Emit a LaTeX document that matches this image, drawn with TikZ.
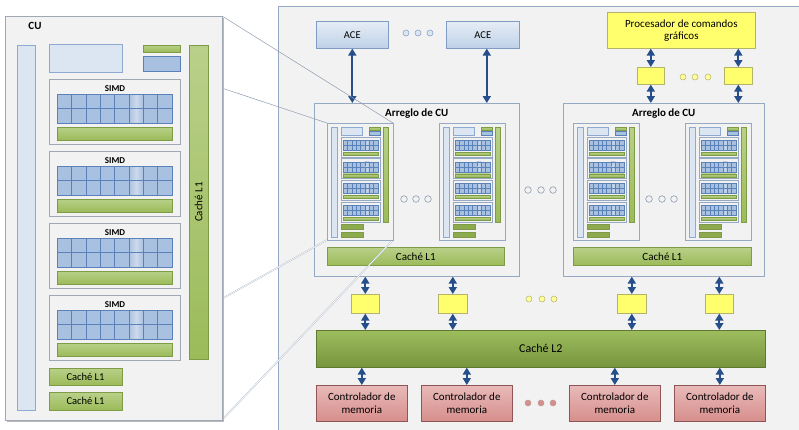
\documentclass[tikz,border=0pt]{standalone}
\usepackage{fontspec}
\setmainfont{Carlito}
\usetikzlibrary{arrows.meta,calc}

\definecolor{panelbg}{HTML}{F2F2F2}
\definecolor{panelln}{HTML}{95A9C3}
\definecolor{cubord}{HTML}{A0A8B4}
\definecolor{ltblue}{HTML}{DCE6F2}
\definecolor{ltblueln}{HTML}{8EAAD0}
\definecolor{cellfill}{HTML}{A9C1E1}
\definecolor{cellln}{HTML}{5B82B8}
\definecolor{cellhi}{HTML}{CCDAEC}
\definecolor{grntop}{HTML}{B9D08A}
\definecolor{grnbot}{HTML}{9BBB59}
\definecolor{grnln}{HTML}{7E9C46}
\definecolor{grndark}{HTML}{8DAA4F}
\definecolor{l2top}{HTML}{9DBD5E}
\definecolor{l2bot}{HTML}{77943D}
\definecolor{l2ln}{HTML}{5E7A30}
\definecolor{yel}{HTML}{FFFF6E}
\definecolor{yelln}{HTML}{B3B36B}
\definecolor{arrc}{HTML}{254E8A}
\definecolor{mctop}{HTML}{E8BAB9}
\definecolor{mcbot}{HTML}{D68E8C}
\definecolor{mcln}{HTML}{8F5655}
\definecolor{acetop}{HTML}{E6EDF6}
\definecolor{acebot}{HTML}{BFD1E7}
\definecolor{aceln}{HTML}{7F9CC4}
\definecolor{projln}{HTML}{8C9CB0}

\tikzset{
  box/.style={draw, line width=0.6pt, inner sep=0pt, anchor=north west, align=center},
  acebox/.style={box, draw=aceln, top color=acetop, bottom color=acebot,
    font=\fontsize{10.5}{12}\selectfont},
  yelbox/.style={box, draw=yelln, fill=yel, font=\fontsize{11}{12}\selectfont},
  arrbox/.style={box, draw=panelln, fill=panelbg},
  l1bar/.style={box, draw=grnln, top color=grntop, bottom color=grnbot,
    font=\fontsize{11}{12}\selectfont},
  l2bar/.style={box, draw=l2ln, top color=l2top, bottom color=l2bot,
    font=\fontsize{12}{14}\selectfont},
  mcbox/.style={box, draw=mcln, top color=mctop, bottom color=mcbot,
    font=\fontsize{11}{13}\selectfont},
  biarrow/.style={draw=arrc, line width=1.8pt,
    {Triangle[length=7pt,width=8pt]}-{Triangle[length=7pt,width=8pt]}},
  cuframe/.style={draw=cubord, fill=panelbg, line width=0.5pt},
  minifr/.style={draw=panelln, fill=panelbg, line width=0.5pt},
  ltb/.style={draw=ltblueln, fill=ltblue, line width=0.5pt},
  grn/.style={draw=grnln, top color=grntop, bottom color=grnbot, line width=0.5pt},
  grnd/.style={draw=grnln, fill=grndark, line width=0.5pt},
  cell/.style={draw=cellln, fill=cellfill, line width=0.4pt},
  cellmid/.style={draw=cellln, left color=cellfill, right color=cellfill,
    middle color=cellhi, line width=0.4pt},
  simdbox/.style={draw=cubord, fill=panelbg, line width=0.5pt},
  dotblue/.style={draw=aceln, fill=ltblue, line width=0.5pt},
  dotgray/.style={draw=projln, fill=panelbg, line width=0.6pt},
  dotyel/.style={draw=yelln, fill=yel!70, line width=0.5pt},
  dotred/.style={draw=mcln!60, fill=mcbot, line width=0.5pt},
  proj/.style={draw=projln, line width=0.5pt},
  projdbl/.style={draw=projln!80, line width=0.35pt, double=white, double distance=0.7pt},
}

% one SIMD lane grid: #1,#2 = top-left corner, #3 = cell width, #4 = cell height, #5 = line width
\newcommand{\lanegrid}[5]{%
  \foreach \c in {0,...,7}{%
    \foreach \r in {0,1}{%
      \ifnum\c=5
        \draw[cellmid, line width=#5] (#1+\c*#3, #2+\r*#4) rectangle ++(#3,#4);
      \else
        \draw[cell, line width=#5] (#1+\c*#3, #2+\r*#4) rectangle ++(#3,#4);
      \fi
    }%
  }%
}

% small compute unit inside a CU array, anchored at its top-left corner
\newcommand{\minicu}[3]{%
  \begin{scope}[shift={(#1,#2)}]
    \draw[minifr] (0,0) rectangle (66,117);
    \coordinate (#3) at (0,0);
    \draw[ltb] (4,4) rectangle (10,114);
    \draw[ltb] (14,4) rectangle (35,12);
    \draw[grn] (42,4) rectangle (53,7);
    \draw[cell] (42,8) rectangle (53,12);
    \draw[grn] (56,4) rectangle (61,99);
    \foreach \k in {0,...,3}{%
      \pgfmathsetmacro\t{14+21.7*\k}
      \draw[minifr] (14,\t) rectangle (53,\t+20);
      \lanegrid{16}{\t+3}{4.375}{5}{0.3pt}
      \draw[grn, line width=0.4pt] (16,\t+15) rectangle (51,\t+18);
    }
    \draw[grnd] (14,101) rectangle (36,106);
    \draw[grnd] (14,109) rectangle (36,114);
  \end{scope}}

\begin{document}
\begin{tikzpicture}[x=1pt, y=-1pt]
  \useasboundingbox (0,0) rectangle (799,429);
  \clip (0,0) rectangle (799,429);

  % GPU panel
  \draw[draw=panelln, fill=panelbg, line width=0.7pt] (278,6) rectangle (820,450);

  % front end
  \node[acebox, minimum width=72pt, minimum height=27pt] (ace1) at (316,21) {ACE};
  \node[acebox, minimum width=73pt, minimum height=27pt] (ace2) at (446,21) {ACE};
  \node[yelbox, minimum width=148pt, minimum height=36pt] (proc) at (607,12)
    {Procesador de comandos\\gráficos};
  \node[yelbox, minimum width=27pt, minimum height=17pt] (sy1) at (637,67) {};
  \node[yelbox, minimum width=28pt, minimum height=17pt] (sy2) at (724,67) {};

  % CU arrays
  \node[arrbox, minimum width=205pt, minimum height=173pt] (arr1) at (314,103) {};
  \node[arrbox, minimum width=201pt, minimum height=173pt] (arr2) at (563,103) {};
  \node[font=\bfseries\fontsize{11}{12}\selectfont] (t1) at ([yshift=-11pt]arr1.north) {Arreglo de CU};
  \node[font=\bfseries\fontsize{11}{12}\selectfont] (t2) at ([yshift=-11pt]arr2.north) {Arreglo de CU};
  \node[l1bar, minimum width=177pt, minimum height=18pt] (c1) at (327,247) {Caché L1};
  \node[l1bar, minimum width=178pt, minimum height=18pt] (c2) at (573,247) {Caché L1};

  % memory side
  \node[yelbox, minimum width=28pt, minimum height=19pt] (by1) at (351,294) {};
  \node[yelbox, minimum width=29pt, minimum height=19pt] (by2) at (438,294) {};
  \node[yelbox, minimum width=29pt, minimum height=19pt] (by3) at (617,294) {};
  \node[yelbox, minimum width=28pt, minimum height=19pt] (by4) at (705,294) {};
  \node[l2bar, minimum width=449pt, minimum height=37pt] (l2) at (316,330) {Caché L2};
  \node[mcbox, minimum width=91pt, minimum height=36pt] (mc1) at (316,385) {Controlador de\\memoria};
  \node[mcbox, minimum width=91pt, minimum height=36pt] (mc2) at (421,385) {Controlador de\\memoria};
  \node[mcbox, minimum width=91pt, minimum height=36pt] (mc3) at (569,385) {Controlador de\\memoria};
  \node[mcbox, minimum width=91pt, minimum height=36pt] (mc4) at (674,385) {Controlador de\\memoria};

  % links
  \draw[biarrow] (ace1.south) -- (ace1.south |- arr1.north);
  \draw[biarrow] ([xshift=4pt]ace2.south) -- ([xshift=4pt]ace2.south |- arr1.north);
  \draw[biarrow] (sy1.north |- proc.south) -- (sy1.north);
  \draw[biarrow] (sy2.north |- proc.south) -- (sy2.north);
  \draw[biarrow] (sy1.south) -- (sy1.south |- arr2.north);
  \draw[biarrow] (sy2.south) -- (sy2.south |- arr2.north);
  \foreach \b/\a in {by1/arr1, by2/arr1, by3/arr2, by4/arr2}{
    \draw[biarrow] (\b.north |- \a.south) -- (\b.north);
    \draw[biarrow] (\b.south) -- (\b.south |- l2.north);
  }
  \foreach \m in {mc1,mc2,mc3,mc4}{
    \draw[biarrow] (\m.north |- l2.south) -- (\m.north);
  }

  % ellipsis dots
  \foreach \x in {406,418,430} \draw[dotblue] (\x,33) circle (3pt);
  \foreach \x in {683,695,708} \draw[dotyel] (\x,77) circle (3pt);
  \foreach \x in {528,541,553} \draw[dotgray] (\x,190) circle (3.3pt);
  \foreach \x in {404,416,428} \draw[dotgray] (\x,199) circle (3.3pt);
  \foreach \x in {649,662,674} \draw[dotgray] (\x,199) circle (3.3pt);
  \foreach \x in {529,542,554} \draw[dotyel] (\x,299) circle (3pt);
  \foreach \x in {528,541,553} \draw[dotred] (\x,403) circle (3pt);

  % corners of the first compute unit, for the magnifier lines
  \coordinate (mtl) at (327,123);
  \coordinate (mtr) at (393,123);
  \coordinate (mbl) at (327,240);
  \coordinate (mbr) at (393,240);
  \coordinate (btl) at (5,16);
  \coordinate (btr) at (222,16);
  \coordinate (bbl) at (5,420);
  \coordinate (bbr) at (222,420);
  \draw[proj] (btl) -- (mtl);
  \draw[proj] (btr) -- (mtr);
  \draw[projdbl] (bbl) -- (mbl);
  \draw[projdbl] (bbr) -- (mbr);

  % enlarged compute unit
  \fill[gray!55] (7,18) rectangle (224,422);
  \draw[cuframe] (btl) rectangle (bbr);
  \node[font=\bfseries\fontsize{11}{12}\selectfont] (cutitle) at (35,26) {CU};
  \draw[ltb] (17,45) rectangle (35,410);
  \draw[ltb] (49,44) rectangle (122,72);
  \draw[grn] (143,45) rectangle (180,52);
  \draw[cell] (143,56) rectangle (180,71);
  \draw[grn] (189,45) rectangle (208,359);
  \node[rotate=90, font=\fontsize{11}{12}\selectfont] (bigl1) at (198.5,202) {Caché L1};
  \foreach \k in {0,...,3}{
    \pgfmathsetmacro\t{79+72*\k}
    \draw[simdbox] (49,\t) rectangle (180,\t+65);
    \node[font=\bfseries\fontsize{9}{10}\selectfont] at (115,\t+10) {SIMD};
    \lanegrid{57}{\t+15}{14.375}{14.5}{0.5pt}
    \draw[grn] (57,\t+48) rectangle (172,\t+61);
  }
  \draw[grn] (49,368) rectangle (122,385);
  \node[font=\fontsize{10.5}{12}\selectfont] at (85.5,376.5) {Caché L1};
  \draw[grn] (49,392) rectangle (122,410);
  \node[font=\fontsize{10.5}{12}\selectfont] at (85.5,401) {Caché L1};

  % compute units inside the arrays
  \minicu{327}{123}{cu1}
  \minicu{439}{123}{cu2}
  \minicu{573}{123}{cu3}
  \minicu{685}{123}{cu4}
\end{tikzpicture}
\end{document}
